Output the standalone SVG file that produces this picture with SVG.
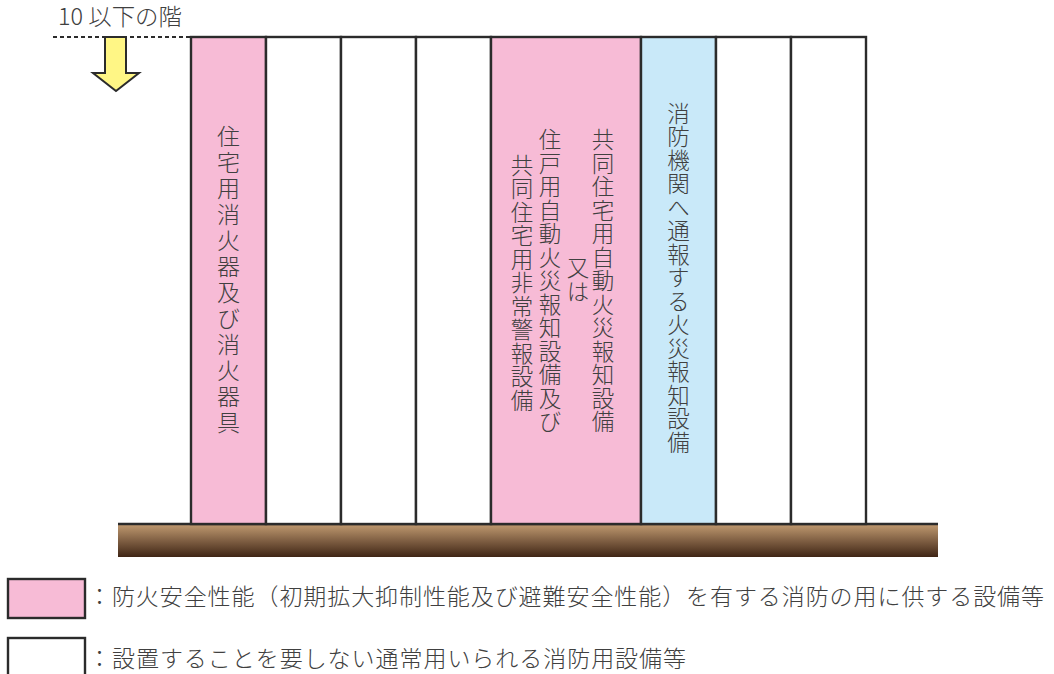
<svg xmlns="http://www.w3.org/2000/svg" width="1054" height="674" viewBox="0 0 1054 674">
<defs>
<linearGradient id="ground" x1="0" y1="0" x2="0" y2="1">
<stop offset="0" stop-color="#bd976e"/>
<stop offset="0.5" stop-color="#7e5e42"/>
<stop offset="1" stop-color="#3f2515"/>
</linearGradient>
<style>
.t{font-family:"Noto Sans CJK JP","Noto Sans",sans-serif;fill:#404040;font-weight:300}
.v{writing-mode:vertical-rl;text-anchor:middle;font-size:22.5px;letter-spacing:1px}
.col{stroke:#2b2b2b;stroke-width:2.4}
.pink{fill:#f7bbd6}
.blue{fill:#c9e9f9}
.white{fill:#ffffff}
</style>
</defs>
<rect width="1054" height="674" fill="#ffffff"/>

<g id="floor-label">
<text class="t" x="58" y="25" font-size="23" textLength="124" lengthAdjust="spacingAndGlyphs">10 以下の階</text>
<line x1="53" y1="37" x2="190" y2="37" stroke="#2b2b2b" stroke-width="2" stroke-dasharray="4 3"/>
</g>

<g id="arrow">
<path d="M105,37 L126,37 L126,73 L139,73 L116,91 L93,73 L105,73 Z" fill="#fff685" stroke="#2b2b2b" stroke-width="2" stroke-linejoin="miter"/>
</g>

<g id="ground-block">
<rect x="118" y="525" width="820" height="32" fill="url(#ground)"/>
<line x1="118" y1="524" x2="938" y2="524" stroke="#2b2b2b" stroke-width="2.4"/>
</g>

<g id="columns">
<rect id="col1" class="pink col" x="191" y="37" width="75" height="487"/>
<rect id="col2" class="white col" x="266" y="37" width="75" height="487"/>
<rect id="col3" class="white col" x="341" y="37" width="75" height="487"/>
<rect id="col4" class="white col" x="416" y="37" width="75" height="487"/>
<rect id="col5" class="pink col" x="491" y="37" width="150" height="487"/>
<rect id="col6" class="blue col" x="641" y="37" width="75" height="487"/>
<rect id="col7" class="white col" x="716" y="37" width="75" height="487"/>
<rect id="col8" class="white col" x="791" y="37" width="75" height="487"/>
</g>

<g id="col1-label">
<text class="t v" x="228.5" y="281" style="font-size:23px;letter-spacing:3px">住宅用消火器及び消火器具</text>
</g>
<g id="col5-label">
<text class="t v" x="603" y="281">共同住宅用自動火災報知設備</text>
<text class="t v" x="578" y="280">又は</text>
<text class="t v" x="550" y="281">住戸用自動火災報知設備及び</text>
<text class="t v" x="522" y="283">共同住宅用非常警報設備</text>
</g>
<g id="col6-label">
<text class="t v" x="678.5" y="278">消防機関へ通報する火災報知設備</text>
</g>

<g id="legend">
<g id="legend-pink">
<rect class="pink col" x="8" y="579" width="77" height="39"/>
<text class="t" x="88" y="605" font-size="23" textLength="956" lengthAdjust="spacing">：防火安全性能（初期拡大抑制性能及び避難安全性能）を有する消防の用に供する設備等</text>
</g>
<g id="legend-white">
<rect class="white col" x="8" y="638" width="77" height="39"/>
<text class="t" x="88" y="667" font-size="23" textLength="598" lengthAdjust="spacing">：設置することを要しない通常用いられる消防用設備等</text>
</g>
</g>
</svg>
